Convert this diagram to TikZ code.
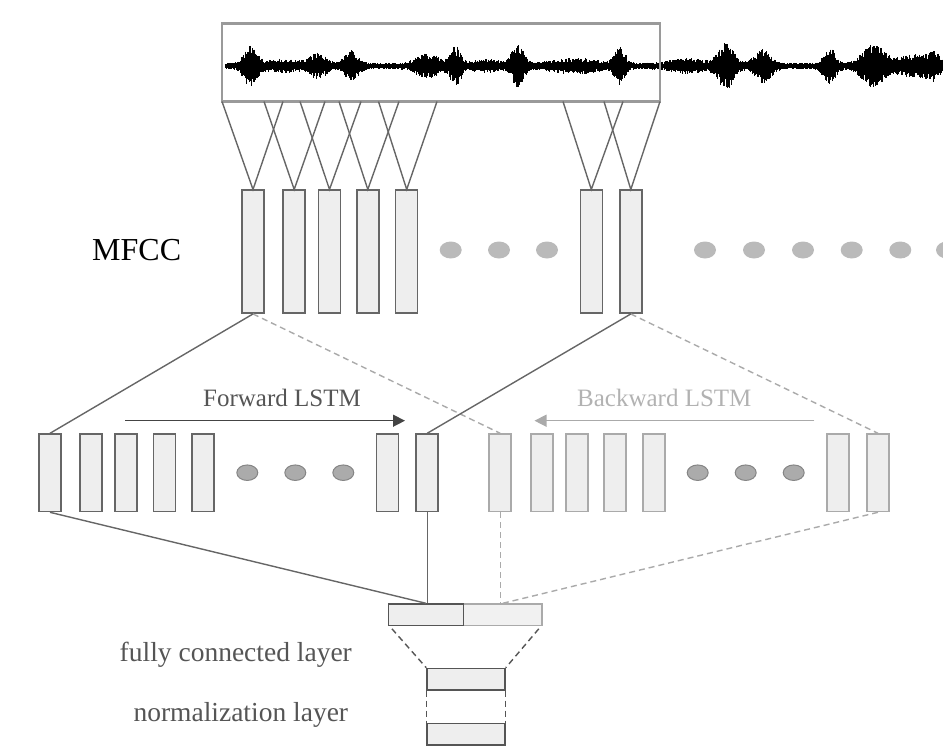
\documentclass[tikz,border=0pt]{standalone}
\usepackage{fontspec}
\setmainfont{Liberation Serif}
\usetikzlibrary{arrows.meta,calc,shapes.geometric}
\definecolor{boxfill}{HTML}{EEEEEE}
\definecolor{darkline}{HTML}{666666}
\definecolor{lightline}{HTML}{AAAAAA}
\definecolor{dotgray}{HTML}{BABABA}
\definecolor{textgray}{HTML}{555555}
\definecolor{framegray}{HTML}{9A9A9A}
\definecolor{arrowdark}{HTML}{444444}
\begin{document}
\begin{tikzpicture}[x=1pt,y=-1pt,
  declare function={
    bump(\x,\c,\w)=exp(max(-9,-(((\x-\c)/\w)*((\x-\c)/\w))));
    wenv(\x)=3.2+17*bump(\x,250,9)+4*bump(\x,282,20)+10*bump(\x,318,11)+13*bump(\x,352,9)
      +10*bump(\x,428,15)+17*bump(\x,456,7)+4*bump(\x,487,17)+19*bump(\x,518,8)
      +5*bump(\x,575,30)+15*bump(\x,620,7)+5*bump(\x,688,22)+21*bump(\x,726,10)
      +14*bump(\x,763,11)+15*bump(\x,830,8)+20*bump(\x,873,14)+9*bump(\x,917,25)+7*bump(\x,934,7);
  },
  mfcc/.style={draw=darkline,fill=boxfill,line width=1.5pt,inner sep=0pt,minimum width=22pt,minimum height=123pt},
  fwd/.style={mfcc,minimum height=77.5pt},
  bwd/.style={fwd,draw=lightline},
  lightdot/.style={ellipse,fill=dotgray,inner sep=0pt,minimum width=22pt,minimum height=17pt},
  lstmdot/.style={ellipse,draw=darkline!80,fill=dotgray!92!black,line width=1pt,inner sep=0pt,minimum width=21pt,minimum height=15.5pt},
  conn/.style={draw=darkline,line width=1.4pt},
  dconn/.style={draw=lightline,line width=1.4pt,dash pattern=on 6pt off 4pt},
  ddark/.style={draw=textgray,line width=1.4pt,dash pattern=on 6pt off 4pt},
  layer/.style={draw=textgray,fill=boxfill,line width=1.5pt,inner sep=0pt,minimum height=21.5pt},
  label/.style={anchor=base,inner sep=0pt},
]
\useasboundingbox (0,0) rectangle (943,750);

% waveform
\pgfmathsetseed{42}
\foreach \x in {226,226.8,...,943}{
  \pgfmathsetmacro{\e}{wenv(\x)}
  \pgfmathsetmacro{\u}{\e*(0.5+0.5*rnd)}
  \pgfmathsetmacro{\d}{\e*(0.5+0.5*rnd)}
  \draw[line width=1.1pt,black] (\x,66-\u) -- (\x,66+\d);
}
\node[draw=framegray,line width=2.5pt,inner sep=0pt,minimum width=438pt,minimum height=78pt] (wave) at (441,62.5) {};

% bottom points of the waveform frame
\foreach \n/\xx in {1/222,2/264,3/283,4/300,5/325,6/339,7/361,8/378.5,9/399,10/437,11/563,12/604,13/623,14/660}{
  \coordinate (w\n) at (\xx,101.5);
}

% MFCC frames
\node[mfcc] (m1) at (253,251.7) {};
\node[mfcc] (m2) at (294.2,251.7) {};
\node[mfcc] (m3) at (329.5,251.7) {};
\node[mfcc] (m4) at (367.8,251.7) {};
\node[mfcc] (m5) at (406.7,251.7) {};
\node[mfcc] (m6) at (591.3,251.7) {};
\node[mfcc] (m7) at (630.8,251.7) {};

\foreach \a/\b/\c in {1/1/3,2/2/5,3/4/7,4/6/9,5/8/10,6/11/13,7/12/14}{
  \draw[conn] (w\b) -- (m\a.north) -- (w\c);
}

\node[label,font=\fontsize{32}{38}\selectfont] (mfcclabel) at (136.7,260) {MFCC};

\foreach \n/\xx in {1/450.7,2/499,3/547,4/705,5/754,6/803,7/851.7,8/900.3,9/947}{
  \node[lightdot] (md\n) at (\xx,250) {};
}

% LSTM cells
\foreach \n/\xx in {1/50,2/90.8,3/126,4/164.3,5/203,6/387.5,7/427.2}{
  \node[fwd] (f\n) at (\xx,472.8) {};
}
\foreach \n/\xx in {1/500.2,2/541.8,3/576.8,4/615,5/654,6/837.8,7/878}{
  \node[bwd] (b\n) at (\xx,472.8) {};
}
\foreach \n/\xx in {1/247.3,2/295.3,3/343.3}{
  \node[lstmdot] (fd\n) at (\xx,472.7) {};
}
\foreach \n/\xx in {1/697.7,2/745.7,3/793.7}{
  \node[lstmdot] (bd\n) at (\xx,472.7) {};
}

% MFCC -> LSTM
\draw[dconn] (m1.south) -- (b1.north);
\draw[dconn] (m7.south) -- (b7.north);
\draw[conn] (m1.south) -- (f1.north);
\draw[conn] (m7.south) -- (f7.north);

% direction arrows and labels
\coordinate (fa1) at (125,420.7);
\coordinate (fa2) at (405,420.7);
\coordinate (ba1) at (814.3,420.7);
\coordinate (ba2) at (534.5,420.7);
\draw[draw=arrowdark,line width=1.4pt,-{Triangle[length=12pt,width=12pt]}] (fa1) -- (fa2);
\draw[draw=lightline,line width=1.4pt,-{Triangle[length=12pt,width=12pt]},lightline] (ba1) -- (ba2);
\node[label,font=\fontsize{25}{30}\selectfont,text=textgray] (fwdlabel) at (282,406.7) {Forward LSTM};
\node[label,font=\fontsize{25}{30}\selectfont,text=lightline!90!white] (bwdlabel) at (664.3,406.7) {Backward LSTM};

% fully connected layer
\node[layer,draw=lightline,fill=boxfill!85!white,minimum width=78.7pt] (fcR) at (502.7,614.8) {};
\node[layer,minimum width=74.6pt] (fcL) at (426,614.8) {};
\node[layer,minimum width=78pt] (n1) at (466,679.2) {};
\node[layer,minimum width=78pt] (n2) at (466,734.2) {};

\draw[conn] (f1.south) -- (fcL.north);
\draw[conn] (f7.south) -- (f7.south |- fcL.north);
\draw[dconn] (b1.south) -- (b1.south |- fcR.north);
\draw[dconn] (b7.south) -- (fcR.north);

\draw[ddark] ($(fcL.south west)+(4,2.5)$) -- (n1.north west);
\draw[ddark] ($(fcR.south east)+(-4,2.5)$) -- (n1.north east);
\draw[ddark] (n1.south west) -- (n2.north west);
\draw[ddark] (n1.south east) -- (n2.north east);

\node[label,font=\fontsize{27.5}{33}\selectfont,text=textgray] (fclabel) at (235.8,661.7) {fully connected layer};
\node[label,font=\fontsize{27.5}{33}\selectfont,text=textgray] (normlabel) at (240.8,721.7) {normalization layer};
\end{tikzpicture}
\end{document}
